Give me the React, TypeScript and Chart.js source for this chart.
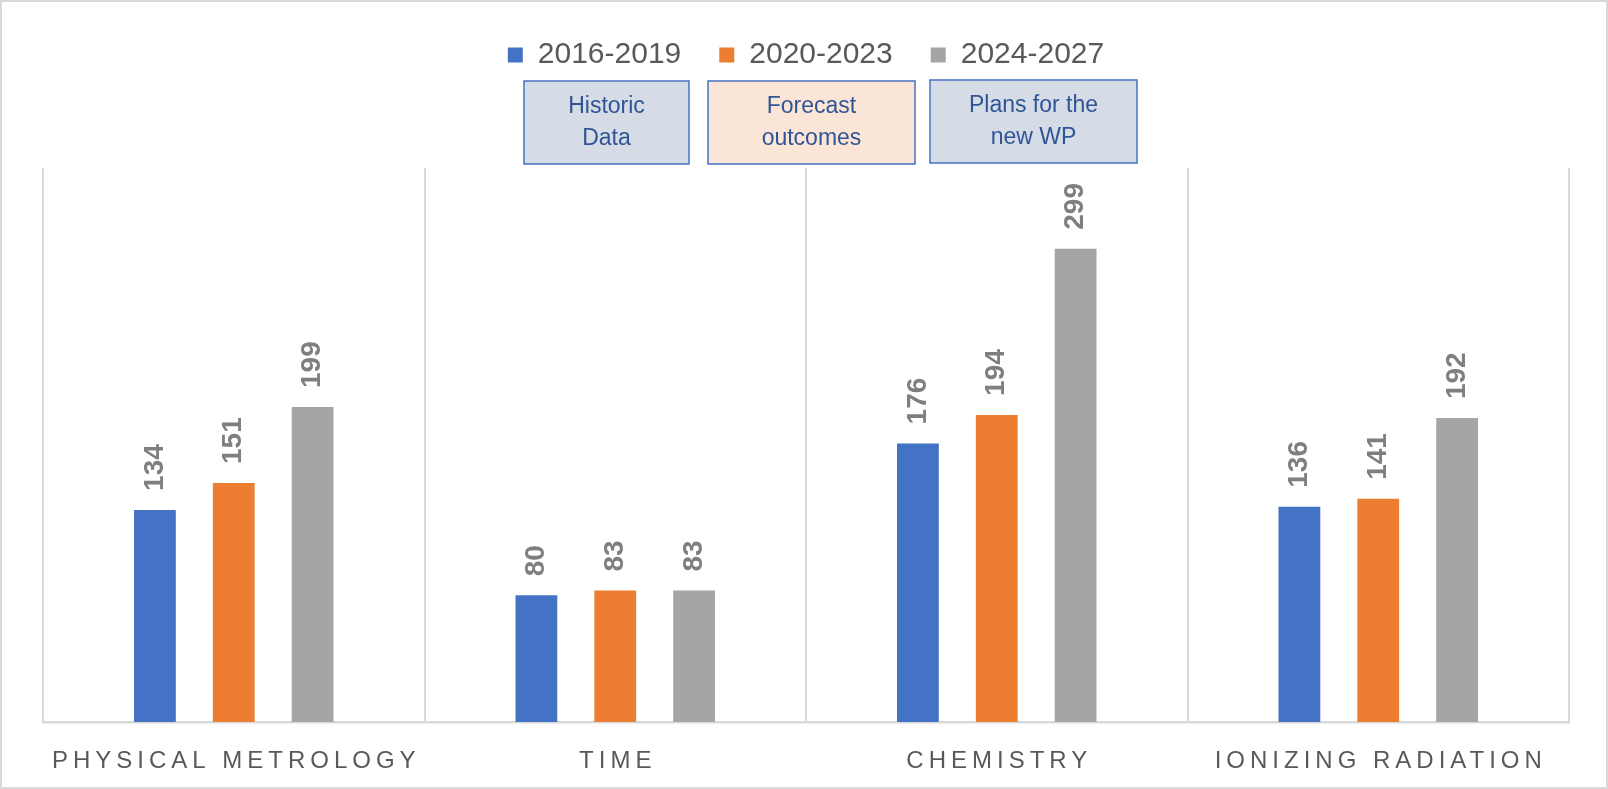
import React, { useEffect, useRef } from 'react';
import { Chart, registerables } from 'chart.js';

Chart.register(...registerables);

const categories = ['PHYSICAL METROLOGY', 'TIME', 'CHEMISTRY', 'IONIZING RADIATION'];
const seriesLabels = ['2016-2019', '2020-2023', '2024-2027'];
const values2016 = [134, 80, 176, 136];
const values2020 = [151, 83, 194, 141];
const values2024 = [199, 83, 299, 192];
const seriesColors = ['#4472C4', '#ED7D31', '#A5A5A5'];
const noteLines = [
  ['Historic', 'Data'],
  ['Forecast', 'outcomes'],
  ['Plans for the', 'new WP'],
];
const noteFills = ['#D6DCE5', '#FBE5D6', '#D6DCE5'];

const FONT = "'Liberation Sans', Arial, sans-serif";

export default function App() {
  const ref = useRef<HTMLCanvasElement>(null);

  useEffect(() => {
    document.body.style.margin = '0';
    const canvas = ref.current!;

    const legendFit = {
      id: 'legendFit',
      beforeLayout(chart: any) {
        const legend = chart.legend;
        if (legend && !legend._fitPatched) {
          const orig = legend.fit;
          legend.fit = function () {
            orig.call(this);
            this.height = 166;
          };
          legend._fitPatched = true;
        }
      },
    };

    const background = {
      id: 'background',
      beforeDraw(chart: any) {
        const ctx = chart.ctx;
        ctx.save();
        ctx.fillStyle = '#ffffff';
        ctx.fillRect(0, 0, chart.width, chart.height);
        ctx.restore();
      },
    };

    const valueLabels = {
      id: 'valueLabels',
      afterDatasetsDraw(chart: any) {
        const ctx = chart.ctx;
        ctx.save();
        ctx.font = `bold 28px ${FONT}`;
        ctx.fillStyle = '#7F7F7F';
        chart.data.datasets.forEach((ds: any, di: number) => {
          const meta = chart.getDatasetMeta(di);
          meta.data.forEach((bar: any, i: number) => {
            ctx.save();
            ctx.translate(bar.x, bar.y - 19);
            ctx.rotate(-Math.PI / 2);
            ctx.textAlign = 'left';
            ctx.textBaseline = 'middle';
            ctx.fillText(String(ds.data[i]), 0, 0);
            ctx.restore();
          });
        });
        ctx.restore();
      },
    };

    const extras = {
      id: 'extras',
      afterDraw(chart: any) {
        const ctx = chart.ctx;
        const xScale = chart.scales.x;
        // category labels
        ctx.save();
        ctx.font = `24px ${FONT}`;
        ctx.fillStyle = '#595959';
        ctx.textAlign = 'center';
        ctx.textBaseline = 'middle';
        const spacing = 5;
        (ctx as any).letterSpacing = `${spacing}px`;
        categories.forEach((c, i) => {
          ctx.fillText(c, xScale.getPixelForValue(i) + spacing / 2, 761);
        });
        ctx.restore();

        // annotation boxes
        const boxes = [
          [524, 81, 165, 83],
          [708, 81, 207, 83],
          [930, 80, 207, 83],
        ];
        ctx.save();
        boxes.forEach((b, i) => {
          ctx.fillStyle = noteFills[i];
          ctx.fillRect(b[0], b[1], b[2], b[3]);
          ctx.strokeStyle = '#4472C4';
          ctx.lineWidth = 1.5;
          ctx.strokeRect(b[0], b[1], b[2], b[3]);
          ctx.fillStyle = '#2F5597';
          ctx.font = `23px ${FONT}`;
          ctx.textAlign = 'center';
          ctx.textBaseline = 'middle';
          const cx = b[0] + b[2] / 2;
          ctx.fillText(noteLines[i][0], cx, b[1] + 26);
          ctx.fillText(noteLines[i][1], cx, b[1] + 58);
        });
        ctx.restore();

        // outer frame
        ctx.save();
        ctx.strokeStyle = '#D9D9D9';
        ctx.lineWidth = 2;
        ctx.strokeRect(1, 1, chart.width - 2, chart.height - 2);
        ctx.restore();
      },
    };

    const chart = new Chart(canvas, {
      type: 'bar',
      data: {
        labels: categories,
        datasets: [
          { label: seriesLabels[0], data: values2016, backgroundColor: seriesColors[0], borderWidth: 0 },
          { label: seriesLabels[1], data: values2020, backgroundColor: seriesColors[1], borderWidth: 0 },
          { label: seriesLabels[2], data: values2024, backgroundColor: seriesColors[2], borderWidth: 0 },
        ],
      },
      options: {
        responsive: false,
        animation: false,
        devicePixelRatio: 1,
        layout: { padding: { top: 2, left: 43, right: 39, bottom: 67 } },
        datasets: {
          bar: { categoryPercentage: 0.62, barPercentage: 0.53 },
        },
        scales: {
          x: {
            offset: true,
            grid: { offset: true, color: '#D9D9D9', lineWidth: 2, drawTicks: false },
            border: { display: true, color: '#D9D9D9', width: 2.5 },
            ticks: { display: false },
          },
          y: { display: false, min: 0, max: 350 },
        },
        plugins: {
          legend: {
            position: 'top',
            labels: {
              boxWidth: 15,
              boxHeight: 15,
              padding: 38,
              color: '#595959',
              font: { family: FONT, size: 30 },
            },
          },
          tooltip: { enabled: false },
        },
      },
      plugins: [legendFit, background, valueLabels, extras],
    } as any);

    return () => chart.destroy();
  }, []);

  return (
    <div style={{ position: 'absolute', left: 0, top: 0, width: 1608, height: 789 }}>
      <canvas ref={ref} width={1608} height={789} />
    </div>
  );
}
